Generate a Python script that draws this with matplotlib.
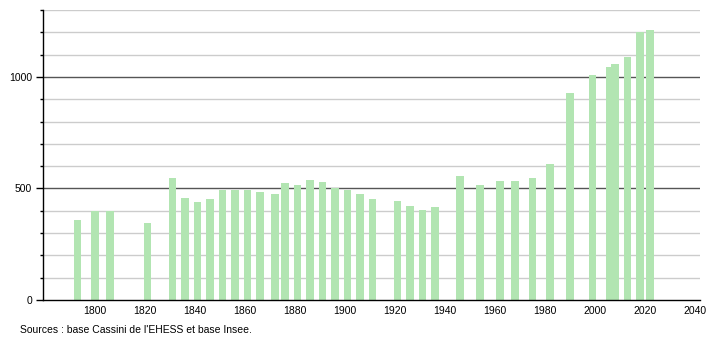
import matplotlib
matplotlib.use("Agg")
import matplotlib.pyplot as plt
from matplotlib.ticker import MultipleLocator

plt.rcParams['font.family'] = ['Liberation Sans', 'DejaVu Sans']

years = [1793, 1800, 1806, 1821, 1831, 1836, 1841, 1846, 1851, 1856, 1861, 1866,
         1872, 1876, 1881, 1886, 1891, 1896, 1901, 1906, 1911, 1921, 1926, 1931,
         1936, 1946, 1954, 1962, 1968, 1975, 1982, 1990, 1999, 2006, 2008, 2013,
         2018, 2022]
population = [360, 401, 400, 347, 549, 459, 441, 455, 491, 495, 491, 482,
              473, 523, 514, 536, 527, 500, 491, 473, 455, 446, 423, 405,
              419, 555, 514, 532, 532, 545, 608, 928, 1009, 1045, 1058, 1090,
              1201, 1211]
x_ticks = [1800, 1820, 1840, 1860, 1880, 1900, 1920, 1940, 1960, 1980, 2000, 2020, 2040]
y_major = [0, 500, 1000]
source = "Sources : base Cassini de l'EHESS et base Insee."

fig = plt.figure(figsize=(7.1, 3.4), dpi=100)
ax = fig.add_axes([43/710, 40/340, 657/710, 290/340])

ax.set_xlim(1779.2, 2042)
ax.set_ylim(0, 1300)

# gridlines
for v in range(100, 1301, 100):
    if v in y_major:
        ax.axhline(v, color='#555555', lw=1.0, zorder=1)
    else:
        ax.axhline(v, color='#cccccc', lw=1.0, zorder=1)

ax.bar(years, population, width=3.1, color='#b2e5b2', edgecolor='none', zorder=2)

for s in ['top', 'right']:
    ax.spines[s].set_visible(False)
ax.spines['left'].set_color('black')
ax.spines['bottom'].set_color('black')
ax.spines['left'].set_linewidth(1.0)
ax.spines['bottom'].set_linewidth(1.0)

ax.set_yticks(y_major)
ax.set_yticklabels([str(v) for v in y_major])
ax.yaxis.set_minor_locator(MultipleLocator(100))
ax.tick_params(axis='y', which='major', length=5, width=1, labelsize=7.5, pad=3, colors='black')
ax.tick_params(axis='y', which='minor', length=2, width=1, colors='black')

ax.set_xticks(x_ticks)
ax.set_xticklabels([str(v) for v in x_ticks])
ax.tick_params(axis='x', which='major', length=0, labelsize=7.5, pad=4)

fig.text(20/710, 1 - 330/340, source, fontsize=7.5, ha='left', va='center')

fig.savefig("out.png", dpi=100)
